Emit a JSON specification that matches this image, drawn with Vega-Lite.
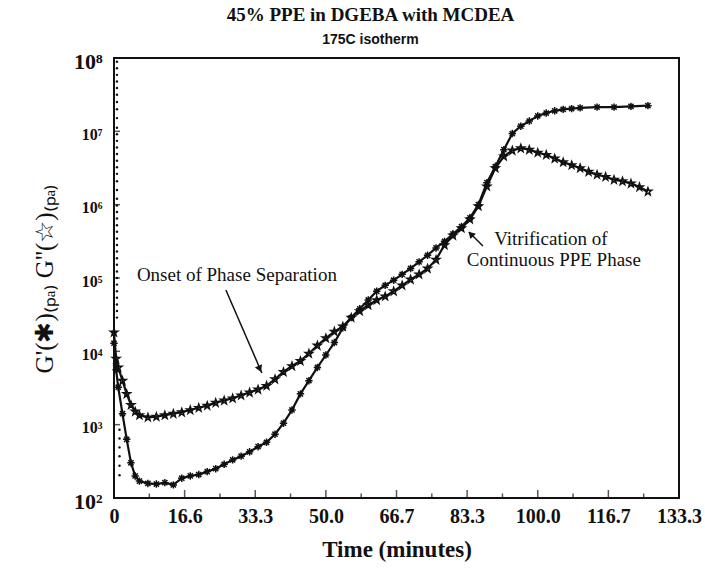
{
"$schema":"https://vega.github.io/schema/vega-lite/v6.json",
"width":565,"height":440,
"autosize":{"type":"none"},
"padding":{"left":114,"top":58,"right":26,"bottom":72},
"background":"white",
"config":{"view":{"stroke":"#111","strokeWidth":2},"font":"Liberation Serif"},
"title":{"text":"45% PPE in DGEBA with MCDEA","subtitle":"175C isotherm","anchor":"middle","dx":-26,"offset":3,"font":"Liberation Serif","fontSize":19,"fontWeight":"bold","color":"#111","subtitleFont":"Liberation Sans Narrow, Liberation Sans","subtitleFontSize":14,"subtitleFontWeight":"bold","subtitleColor":"#111","subtitlePadding":8},
"datasets":{
"xticks":[{"t":16.667,"kind":"major"},{"t":33.333,"kind":"major"},{"t":50,"kind":"major"},{"t":66.667,"kind":"major"},{"t":83.333,"kind":"major"},{"t":100,"kind":"major"},{"t":116.667,"kind":"major"},{"t":8.333,"kind":"minor"},{"t":25,"kind":"minor"},{"t":41.667,"kind":"minor"},{"t":58.333,"kind":"minor"},{"t":75,"kind":"minor"},{"t":91.667,"kind":"minor"},{"t":108.333,"kind":"minor"},{"t":125,"kind":"minor"}],
"yticks":[{"G":1000},{"G":10000},{"G":100000},{"G":1000000},{"G":10000000}],
"curves":[
{"t":0,"G":12900,"series":"G'"},{"t":0.5,"G":5620,"series":"G'"},{"t":1,"G":3240,"series":"G'"},{"t":2,"G":1410,"series":"G'"},{"t":3,"G":631,"series":"G'"},{"t":4,"G":302,"series":"G'"},{"t":5,"G":200,"series":"G'"},{"t":6,"G":170,"series":"G'"},{"t":8,"G":158,"series":"G'"},{"t":10,"G":155,"series":"G'"},{"t":12,"G":162,"series":"G'"},{"t":14,"G":151,"series":"G'"},{"t":16,"G":186,"series":"G'"},{"t":18,"G":200,"series":"G'"},{"t":20,"G":209,"series":"G'"},{"t":22,"G":229,"series":"G'"},{"t":24,"G":251,"series":"G'"},{"t":26,"G":288,"series":"G'"},{"t":28,"G":331,"series":"G'"},{"t":30,"G":372,"series":"G'"},{"t":32,"G":427,"series":"G'"},{"t":34,"G":501,"series":"G'"},{"t":36,"G":575,"series":"G'"},{"t":38,"G":741,"series":"G'"},{"t":40,"G":1047,"series":"G'"},{"t":42,"G":1585,"series":"G'"},{"t":44,"G":2630,"series":"G'"},{"t":46,"G":3981,"series":"G'"},{"t":48,"G":6026,"series":"G'"},{"t":50,"G":8913,"series":"G'"},{"t":52,"G":13180,"series":"G'"},{"t":54,"G":20890,"series":"G'"},{"t":56,"G":28840,"series":"G'"},{"t":58,"G":38020,"series":"G'"},{"t":60,"G":50120,"series":"G'"},{"t":62,"G":66070,"series":"G'"},{"t":64,"G":79430,"series":"G'"},{"t":66,"G":93330,"series":"G'"},{"t":68,"G":112200,"series":"G'"},{"t":70,"G":134900,"series":"G'"},{"t":72,"G":166000,"series":"G'"},{"t":74,"G":204200,"series":"G'"},{"t":76,"G":257000,"series":"G'"},{"t":78,"G":316200,"series":"G'"},{"t":80,"G":398100,"series":"G'"},{"t":82,"G":501200,"series":"G'"},{"t":84,"G":660700,"series":"G'"},{"t":86,"G":1000000,"series":"G'"},{"t":88,"G":1995000,"series":"G'"},{"t":90,"G":3311000,"series":"G'"},{"t":92,"G":5623000,"series":"G'"},{"t":94,"G":9333000,"series":"G'"},{"t":96,"G":11750000,"series":"G'"},{"t":98,"G":13800000,"series":"G'"},{"t":100,"G":16220000,"series":"G'"},{"t":102,"G":17780000,"series":"G'"},{"t":104,"G":19050000,"series":"G'"},{"t":106,"G":19950000,"series":"G'"},{"t":108,"G":20420000,"series":"G'"},{"t":110,"G":20890000,"series":"G'"},{"t":114,"G":21380000,"series":"G'"},{"t":118,"G":21380000,"series":"G'"},{"t":122,"G":21880000,"series":"G'"},{"t":126,"G":22390000,"series":"G'"},
{"t":0,"G":18200,"series":"G''"},{"t":0.5,"G":7943,"series":"G''"},{"t":1,"G":6026,"series":"G''"},{"t":2,"G":3981,"series":"G''"},{"t":3,"G":2630,"series":"G''"},{"t":4,"G":1862,"series":"G''"},{"t":5,"G":1514,"series":"G''"},{"t":6,"G":1349,"series":"G''"},{"t":8,"G":1259,"series":"G''"},{"t":10,"G":1288,"series":"G''"},{"t":12,"G":1349,"series":"G''"},{"t":14,"G":1413,"series":"G''"},{"t":16,"G":1479,"series":"G''"},{"t":18,"G":1585,"series":"G''"},{"t":20,"G":1698,"series":"G''"},{"t":22,"G":1820,"series":"G''"},{"t":24,"G":1995,"series":"G''"},{"t":26,"G":2138,"series":"G''"},{"t":28,"G":2291,"series":"G''"},{"t":30,"G":2512,"series":"G''"},{"t":32,"G":2754,"series":"G''"},{"t":34,"G":3020,"series":"G''"},{"t":36,"G":3388,"series":"G''"},{"t":38,"G":4169,"series":"G''"},{"t":40,"G":5248,"series":"G''"},{"t":42,"G":6310,"series":"G''"},{"t":44,"G":7413,"series":"G''"},{"t":46,"G":9333,"series":"G''"},{"t":48,"G":12020,"series":"G''"},{"t":50,"G":15140,"series":"G''"},{"t":52,"G":18620,"series":"G''"},{"t":54,"G":21880,"series":"G''"},{"t":56,"G":28840,"series":"G''"},{"t":58,"G":35480,"series":"G''"},{"t":60,"G":42660,"series":"G''"},{"t":62,"G":50120,"series":"G''"},{"t":64,"G":56230,"series":"G''"},{"t":66,"G":66070,"series":"G''"},{"t":68,"G":79430,"series":"G''"},{"t":70,"G":95500,"series":"G''"},{"t":72,"G":112200,"series":"G''"},{"t":74,"G":134900,"series":"G''"},{"t":76,"G":177800,"series":"G''"},{"t":78,"G":281800,"series":"G''"},{"t":80,"G":380200,"series":"G''"},{"t":82,"G":478600,"series":"G''"},{"t":84,"G":631000,"series":"G''"},{"t":86,"G":955000,"series":"G''"},{"t":88,"G":1778000,"series":"G''"},{"t":90,"G":3162000,"series":"G''"},{"t":92,"G":4571000,"series":"G''"},{"t":94,"G":5495000,"series":"G''"},{"t":96,"G":5888000,"series":"G''"},{"t":98,"G":5623000,"series":"G''"},{"t":100,"G":5129000,"series":"G''"},{"t":102,"G":4786000,"series":"G''"},{"t":104,"G":4266000,"series":"G''"},{"t":106,"G":3802000,"series":"G''"},{"t":108,"G":3467000,"series":"G''"},{"t":110,"G":3162000,"series":"G''"},{"t":112,"G":2818000,"series":"G''"},{"t":114,"G":2570000,"series":"G''"},{"t":116,"G":2399000,"series":"G''"},{"t":118,"G":2188000,"series":"G''"},{"t":120,"G":2089000,"series":"G''"},{"t":122,"G":1950000,"series":"G''"},{"t":124,"G":1738000,"series":"G''"},{"t":126,"G":1514000,"series":"G''"}
],
"ramp":[{"t":0.7,"G":89130000},{"t":0.7,"G":72440000},{"t":0.7,"G":58880000},{"t":0.7,"G":47860000},{"t":0.7,"G":38900000},{"t":0.7,"G":31620000},{"t":0.7,"G":25120000},{"t":0.7,"G":19950000},{"t":0.7,"G":15140000},{"t":0.7,"G":11220000},{"t":0.7,"G":9120000},{"t":0.7,"G":7413000},{"t":0.7,"G":6026000},{"t":0.7,"G":4898000},{"t":0.7,"G":3981000},{"t":0.7,"G":3236000},{"t":0.7,"G":2630000},{"t":0.7,"G":2089000},{"t":0.7,"G":1585000},{"t":0.7,"G":1202000},{"t":0.7,"G":977200},{"t":0.7,"G":794300},{"t":0.7,"G":645700},{"t":0.7,"G":524800},{"t":0.7,"G":426600},{"t":0.7,"G":346700},{"t":0.7,"G":281800},{"t":0.7,"G":229100},{"t":0.7,"G":186200},{"t":0.7,"G":151400},{"t":0.7,"G":123000},{"t":0.7,"G":100000},{"t":0.7,"G":81280},{"t":0.7,"G":66070},{"t":0.7,"G":53700},{"t":0.7,"G":43650},{"t":0.7,"G":35480},{"t":0.7,"G":28840},{"t":1.3,"G":851},{"t":1.3,"G":646},{"t":1.3,"G":490},{"t":1.3,"G":372},{"t":1.3,"G":275},{"t":1.3,"G":204}],
"arrows":[{"t":26.4,"G":68550,"t2":34.9,"G2":5060},{"t":87.06,"G":272900,"t2":83.75,"G2":423600}],
"arrowheads":[{"t":34.4,"G":5740,"which":"onset"},{"t":84.2,"G":398100,"which":"vitr"}],
"notes":[{"t":29.0,"G":109600,"label":"Onset of Phase Separation"},{"t":103.1,"G":335000,"label":"Vitrification of"},{"t":103.8,"G":178000,"label":"Continuous PPE Phase"}]
},
"layer":[
{"data":{"name":"curves"},"mark":{"type":"line","color":"#111","strokeWidth":2.2},
"encoding":{
"x":{"field":"t","type":"quantitative","scale":{"domain":[0,133.333],"nice":false,"zero":false},
"axis":{"title":"Time (minutes)","values":[0,16.667,33.333,50,66.667,83.333,100,116.667,133.333],"labelExpr":"datum.value < 1 ? '0' : datum.value < 20 ? '16.6' : format(datum.value, '.1f')","ticks":false,"domain":false,"grid":false,"labelFont":"Liberation Serif","labelFontWeight":"bold","labelFontSize":20,"labelColor":"#111","labelPadding":8,"labelFlush":false,"labelOverlap":false,"titleFont":"Liberation Serif","titleFontWeight":"bold","titleFontSize":23,"titleColor":"#111","titlePadding":12}},
"y":{"field":"G","type":"quantitative","scale":{"type":"log","domain":[100,100000000],"nice":false},
"axis":{"title":"G'(✱)₍ₚₐ₎  G''(☆)₍ₚₐ₎","values":[100,1000,10000,100000,1000000,10000000,100000000],"labelExpr":"'10' + ['⁰','¹','²','³','⁴','⁵','⁶','⁷','⁸'][round(log(datum.value)/LN10)]","ticks":false,"domain":false,"grid":false,"labelFont":"Liberation Serif","labelFontWeight":"bold","labelFontSize":{"condition":{"test":"datum.value >= 1e8 || datum.value <= 100","value":22},"value":16},"labelColor":"#111","labelPadding":12,"labelOffset":3,"labelFlush":false,"labelOverlap":false,"titleFont":"Liberation Serif","titleFontSize":25,"titleFontWeight":"normal","titleColor":"#111","titlePadding":16}},
"detail":{"field":"series","type":"nominal"}}},
{"data":{"name":"xticks"},"mark":{"type":"tick","orient":"vertical","clip":true,"color":"#111","thickness":1.5},
"encoding":{
"x":{"field":"t","type":"quantitative"},
"y":{"datum":100,"type":"quantitative"},
"size":{"field":"kind","type":"nominal","scale":{"domain":["major","minor"],"range":[16,9]},"legend":null}}},
{"data":{"name":"yticks"},"mark":{"type":"tick","orient":"horizontal","clip":true,"color":"#111","thickness":1.5,"size":12},
"encoding":{"x":{"datum":0,"type":"quantitative"},"y":{"field":"G","type":"quantitative"}}},
{"data":{"name":"curves"},"mark":{"type":"point","filled":false,"color":"#111","strokeWidth":1.5,"size":55,"opacity":1},
"encoding":{"x":{"field":"t","type":"quantitative"},"y":{"field":"G","type":"quantitative"},"shape":{"field":"series","type":"nominal","scale":{"domain":["G'","G''"],"range":["M-1,0L1,0M0,-1L0,1M-0.7,-0.7L0.7,0.7M-0.7,0.7L0.7,-0.7","M0,-1L0.25,-0.3L1,-0.3L0.4,0.15L0.6,0.9L0,0.45L-0.6,0.9L-0.4,0.15L-1,-0.3L-0.25,-0.3Z"]},"legend":null}}},
{"data":{"name":"ramp"},"mark":{"type":"point","filled":true,"color":"#111","size":6,"opacity":1},
"encoding":{"x":{"field":"t","type":"quantitative"},"y":{"field":"G","type":"quantitative"}}},
{"data":{"name":"arrows"},"mark":{"type":"rule","color":"#111","strokeWidth":1.5},
"encoding":{"x":{"field":"t","type":"quantitative"},"y":{"field":"G","type":"quantitative"},"x2":{"field":"t2"},"y2":{"field":"G2"}}},
{"data":{"name":"arrowheads"},"transform":[{"filter":"datum.which == 'onset'"}],"mark":{"type":"point","shape":"triangle-up","angle":156,"filled":true,"color":"#111","size":60,"opacity":1},
"encoding":{"x":{"field":"t","type":"quantitative"},"y":{"field":"G","type":"quantitative"}}},
{"data":{"name":"arrowheads"},"transform":[{"filter":"datum.which == 'vitr'"}],"mark":{"type":"point","shape":"triangle-up","angle":315,"filled":true,"color":"#111","size":60,"opacity":1},
"encoding":{"x":{"field":"t","type":"quantitative"},"y":{"field":"G","type":"quantitative"}}},
{"data":{"name":"notes"},"mark":{"type":"text","font":"Liberation Serif","fontSize":19,"color":"#111","align":"center","baseline":"middle"},
"encoding":{"x":{"field":"t","type":"quantitative"},"y":{"field":"G","type":"quantitative"},"text":{"field":"label","type":"nominal"}}}
]
}
